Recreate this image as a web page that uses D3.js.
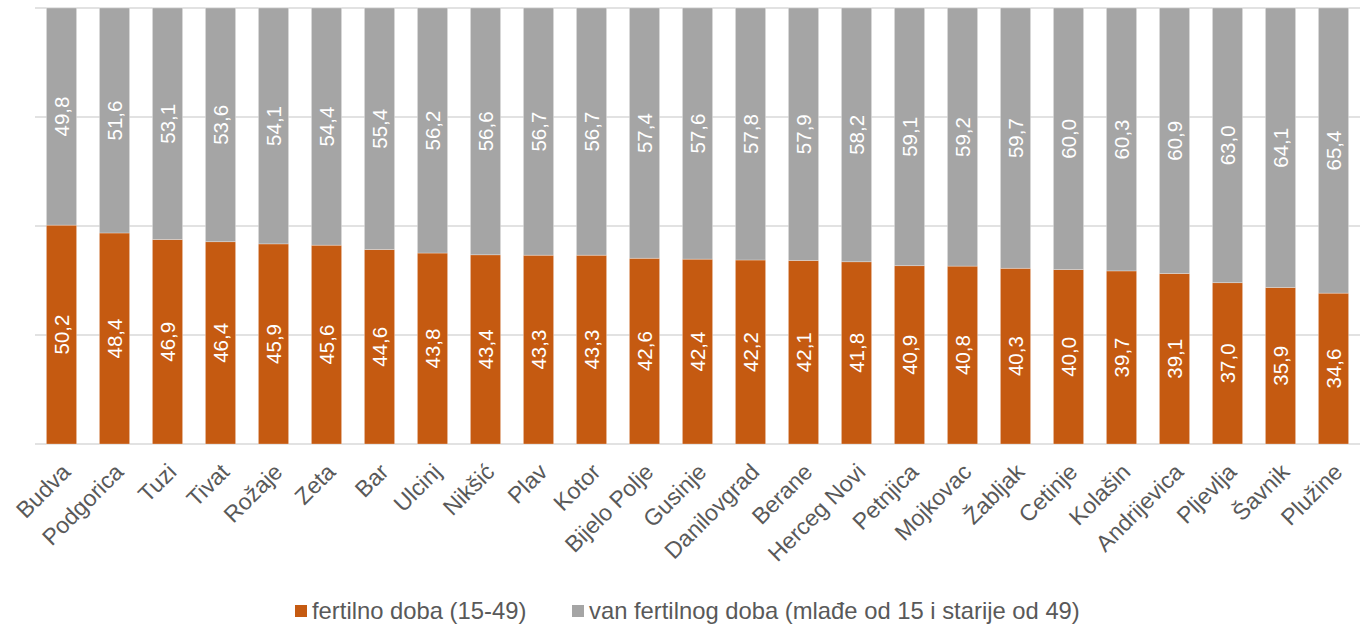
<!DOCTYPE html>
<html>
<head>
<meta charset="utf-8">
<script src="https://cdn.jsdelivr.net/npm/d3@7"></script>
<style>
  body { margin: 0; background: #fff; }
  svg { display: block; font-family: "Liberation Sans", Arial, sans-serif; }
</style>
</head>
<body>
<div id="chart"></div>
<script>
const categories = ["Budva", "Podgorica", "Tuzi", "Tivat", "Rožaje", "Zeta", "Bar", "Ulcinj", "Nikšić", "Plav",
  "Kotor", "Bijelo Polje", "Gusinje", "Danilovgrad", "Berane", "Herceg Novi", "Petnjica", "Mojkovac", "Žabljak",
  "Cetinje", "Kolašin", "Andrijevica", "Pljevlja", "Šavnik", "Plužine"];
const fertile = [50.2, 48.4, 46.9, 46.4, 45.9, 45.6, 44.6, 43.8, 43.4, 43.3, 43.3, 42.6, 42.4, 42.2, 42.1, 41.8,
  40.9, 40.8, 40.3, 40.0, 39.7, 39.1, 37.0, 35.9, 34.6];
const nonFertile = [49.8, 51.6, 53.1, 53.6, 54.1, 54.4, 55.4, 56.2, 56.6, 56.7, 56.7, 57.4, 57.6, 57.8, 57.9, 58.2,
  59.1, 59.2, 59.7, 60.0, 60.3, 60.9, 63.0, 64.1, 65.4];
const seriesNames = ["fertilno doba (15-49)", "van fertilnog doba (mlađe od 15 i starije od 49)"];
const colors = ["#C55A11", "#A5A5A5"];
const yTicks = [0, 25, 50, 75, 100];

const width = 1360, height = 627;
const margin = { top: 8, right: 0, bottom: 183, left: 35 };
const innerW = width - margin.left - margin.right;
const innerH = height - margin.top - margin.bottom;

const rows = categories.map((c, i) => ({ cat: c, fertile: fertile[i], nonFertile: nonFertile[i] }));
const stack = d3.stack().keys(["fertile", "nonFertile"]).offset(d3.stackOffsetExpand);
const layers = stack(rows);

const x = d3.scaleBand().domain(categories).range([0, innerW]).paddingInner(0.43).paddingOuter(0.215);
const y = d3.scaleLinear().domain([0, 100]).range([innerH, 0]);

const svg = d3.select("#chart").append("svg")
  .attr("width", width)
  .attr("height", height);
const g = svg.append("g").attr("transform", `translate(${margin.left},${margin.top})`);

// gridlines
g.append("g").selectAll("line")
  .data(yTicks)
  .enter().append("line")
  .attr("x1", 0).attr("x2", innerW)
  .attr("y1", d => y(d)).attr("y2", d => y(d))
  .attr("stroke", "#D9D9D9").attr("stroke-width", 1.5);

// stacked bars + value labels
const raw = [fertile, nonFertile];
layers.forEach((layer, li) => {
  const lg = g.append("g");
  lg.selectAll("rect")
    .data(layer)
    .enter().append("rect")
    .attr("x", d => x(d.data.cat))
    .attr("width", x.bandwidth())
    .attr("y", d => y(d[1] * 100))
    .attr("height", d => y(d[0] * 100) - y(d[1] * 100))
    .attr("fill", colors[li])
    .attr("stroke", "#ffffff").attr("stroke-opacity", 0.35).attr("stroke-width", 0.8);
  lg.selectAll("text")
    .data(layer)
    .enter().append("text")
    .attr("transform", d => {
      const cx = x(d.data.cat) + x.bandwidth() / 2;
      const cy = (y(d[0] * 100) + y(d[1] * 100)) / 2;
      return `translate(${cx},${cy}) rotate(-90)`;
    })
    .attr("text-anchor", "middle")
    .attr("dy", "0.35em")
    .attr("fill", "#ffffff")
    .attr("font-size", 20.5)
    .text((d, i) => raw[li][i].toFixed(1).replace(".", ","));
});

// x axis labels
g.append("g").selectAll("text")
  .data(categories)
  .enter().append("text")
  .attr("transform", d => `translate(${x(d) + x.bandwidth() / 2 - 1},${innerH + 18}) rotate(-45)`)
  .attr("text-anchor", "end")
  .attr("dy", "0.7em")
  .attr("fill", "#595959")
  .attr("font-size", 23)
  .text(d => d);

// legend
const legendX = [295, 572];
const legend = svg.append("g").attr("transform", "translate(0,611)");
seriesNames.forEach((name, i) => {
  legend.append("rect")
    .attr("x", legendX[i]).attr("y", -6)
    .attr("width", 12).attr("height", 12)
    .attr("fill", colors[i]);
  legend.append("text")
    .attr("x", legendX[i] + 17).attr("y", 0)
    .attr("dy", "0.35em")
    .attr("fill", "#595959")
    .attr("font-size", 23.8)
    .text(name);
});
</script>
</body>
</html>
